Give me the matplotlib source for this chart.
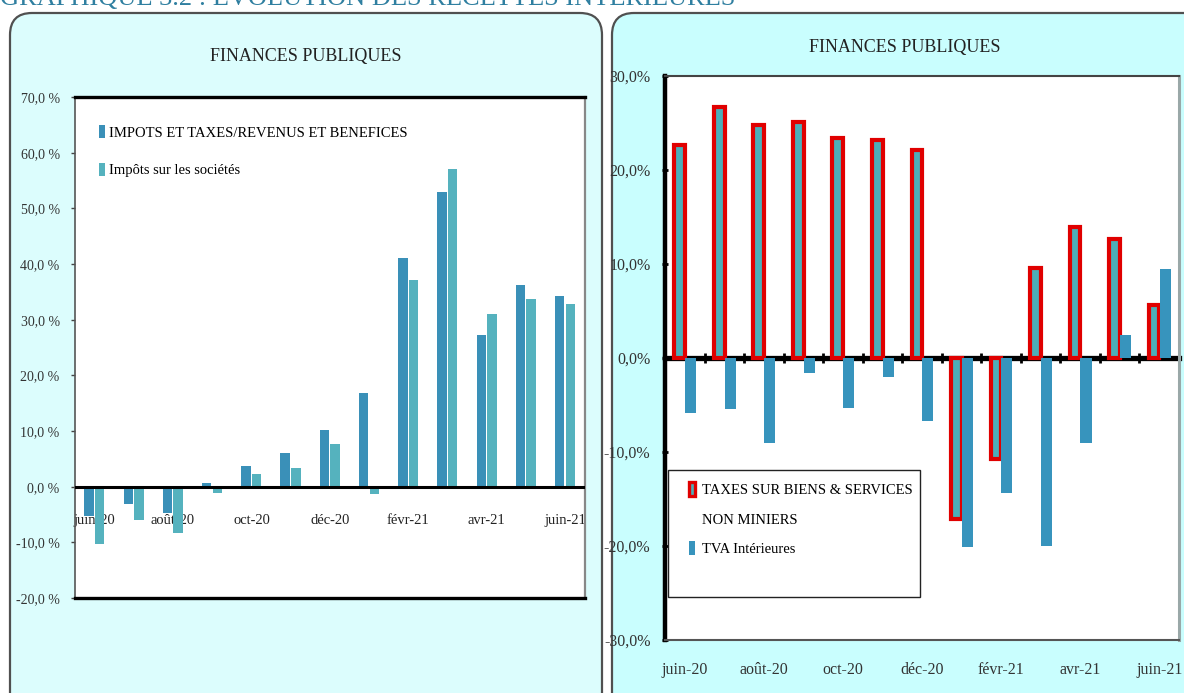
import numpy as np
import matplotlib
matplotlib.use("Agg")
import matplotlib.pyplot as plt
from matplotlib.patches import FancyBboxPatch, Rectangle, Patch
from matplotlib.ticker import FuncFormatter, MultipleLocator

plt.rcParams["font.family"] = ["Liberation Serif", "DejaVu Serif"]

# data
months = ["juin-20", "juil-20", "août-20", "sept-20", "oct-20", "nov-20", "déc-20",
          "janv-21", "févr-21", "mars-21", "avr-21", "mai-21", "juin-21"]
impots_revenus = [-5.3, -3.1, -4.7, 0.6, 3.8, 6.1, 10.1, 16.9, 41.0, 53.0, 27.3, 36.3, 34.2]
impots_societes = [-10.2, -6.0, -8.4, -1.1, 2.3, 3.3, 7.7, -1.3, 37.2, 57.1, 31.0, 33.8, 32.8]
taxes_biens = [22.7, 26.7, 24.8, 25.1, 23.4, 23.2, 22.1, -17.1, -10.7, 9.6, 13.9, 12.7, 5.6]
tva_int = [-5.9, -5.4, -9.0, -1.6, -5.3, -2.0, -6.7, -20.1, -14.4, -20.0, -9.0, 2.4, 9.5]

label_rev = "IMPOTS ET TAXES/REVENUS ET BENEFICES"
label_soc = "Impôts sur les sociétés"
label_taxes = "TAXES SUR BIENS & SERVICES"
label_taxes2 = "NON MINIERS"
label_tva = "TVA Intérieures"
shown = ["juin-20", "août-20", "oct-20", "déc-20", "févr-21", "avr-21", "juin-21"]

x = np.arange(len(months))
tick_pos = [months.index(m) for m in shown]

fig = plt.figure(figsize=(11.84, 6.93), dpi=100)
fig.patch.set_facecolor("white")

# panel backgrounds (inches), behind the axes
for x0, w, col in [(0.10, 5.92, "#dcfdfd"), (6.12, 6.0, "#c9fefe")]:
    box = FancyBboxPatch((x0, -0.4), w, 7.20, boxstyle="round,pad=0,rounding_size=0.22",
                         transform=fig.dpi_scale_trans, facecolor=col,
                         edgecolor="#505050", linewidth=1.6, zorder=-5)
    fig.patches.append(box)

fig.text(0.0, 0.993, "GRAPHIQUE 3.2 : EVOLUTION DES RECETTES INTERIEURES",
         color="#2f7fa0", fontsize=19, ha="left", va="baseline")

# ---------------- left chart ----------------
ax1 = fig.add_axes([0.0633, 0.137, 0.4307, 0.723])
ax1.set_facecolor("white")
w = 0.24
ax1.bar(x - 0.14, impots_revenus, width=w, color="#3a90b8", zorder=3, label=label_rev)
ax1.bar(x + 0.13, impots_societes, width=w, color="#55b2be", zorder=3, label=label_soc)
ax1.set_xlim(-0.5, len(months) - 0.5)
ax1.set_ylim(-20, 70)
ax1.yaxis.set_major_locator(MultipleLocator(10))
ax1.yaxis.set_major_formatter(FuncFormatter(lambda v, p: f"{v:.1f} %".replace(".", ",")))
ax1.tick_params(axis="y", direction="out", length=3, width=1, pad=8,
                labelsize=10, labelcolor="#333333", color="#444444")
ax1.set_xticks([])
ax1.axhline(0, color="black", linewidth=2.2, zorder=4)
for s in ["top", "bottom"]:
    ax1.spines[s].set_linewidth(2.4)
    ax1.spines[s].set_color("black")
ax1.spines["left"].set_color("#555555")
ax1.spines["left"].set_linewidth(1.2)
ax1.spines["right"].set_color("#888888")
ax1.spines["right"].set_linewidth(1.6)

# category labels sit just under the zero line
sec1 = ax1.secondary_xaxis(2 / 9)
sec1.set_xticks(tick_pos, shown)
sec1.tick_params(length=0, pad=20, labelsize=10.5, labelcolor="#222222")
sec1.spines["bottom"].set_visible(False)

ax1.legend(loc="upper left", bbox_to_anchor=(0.035, 0.955), frameon=False,
           fontsize=10.5, handlelength=0.45, handleheight=1.0, handletextpad=0.25,
           labelspacing=1.55, borderaxespad=0)

fig.text(0.258, 0.918, "FINANCES PUBLIQUES", fontsize=13, ha="center", va="center",
         color="#222222")

# ---------------- right chart ----------------
ax2 = fig.add_axes([0.5617, 0.0765, 0.434, 0.8138])
ax2.set_facecolor("white")
ax2.bar(x - 0.13, taxes_biens, width=0.27, color="#4daeb9", edgecolor="#e00000",
        linewidth=3.0, zorder=3)
ax2.bar(x + 0.15, tva_int, width=0.28, color="#3794bd", zorder=4)
ax2.set_xlim(-0.5, len(months) - 0.5)
ax2.set_ylim(-30, 30)
ax2.yaxis.set_major_locator(MultipleLocator(10))
ax2.yaxis.set_major_formatter(FuncFormatter(lambda v, p: f"{v:.1f}%".replace(".", ",")))
ax2.tick_params(axis="y", direction="inout", length=5, width=2, pad=8,
                labelsize=11.5, labelcolor="#333333", color="black")
ax2.set_xticks(tick_pos, shown)
ax2.tick_params(axis="x", length=0, pad=16, labelsize=11.5, labelcolor="#333333")
ax2.spines["left"].set_linewidth(3.2)
ax2.spines["left"].set_color("black")
ax2.spines["top"].set_color("#444444")
ax2.spines["top"].set_linewidth(1.5)
ax2.spines["bottom"].set_color("#555555")
ax2.spines["bottom"].set_linewidth(1.5)
ax2.spines["right"].set_color("#9aa8a8")
ax2.spines["right"].set_linewidth(2.2)

# thick zero line with small ticks between months
sec2 = ax2.secondary_xaxis(0.5)
sec2.set_xticks(x[:-1] + 0.5)
sec2.tick_params(direction="inout", length=7, width=2, color="black",
                 labelbottom=False, labeltop=False)
for s in sec2.spines.values():
    s.set_linewidth(3.8)
    s.set_color("black")
    s.set_zorder(5)

# legend box
ax2.add_patch(Rectangle((0.006, 0.076), 0.49, 0.225, transform=ax2.transAxes,
                        facecolor="white", edgecolor="#222222", linewidth=1.0, zorder=6))
handles = [Patch(facecolor="#4daeb9", edgecolor="#e00000", linewidth=2.4),
           Patch(facecolor="none", edgecolor="none"),
           Patch(facecolor="#3794bd", edgecolor="none")]
leg = ax2.legend(handles, [label_taxes, label_taxes2, label_tva], loc="upper left",
                 bbox_to_anchor=(0.035, 0.29), frameon=False, fontsize=10.5,
                 handlelength=0.45, handleheight=1.1, handletextpad=0.45,
                 labelspacing=1.0, borderaxespad=0)
leg.set_zorder(7)

fig.text(0.764, 0.931, "FINANCES PUBLIQUES", fontsize=13, ha="center", va="center",
         color="#222222")

fig.savefig("out.png", dpi=100)
